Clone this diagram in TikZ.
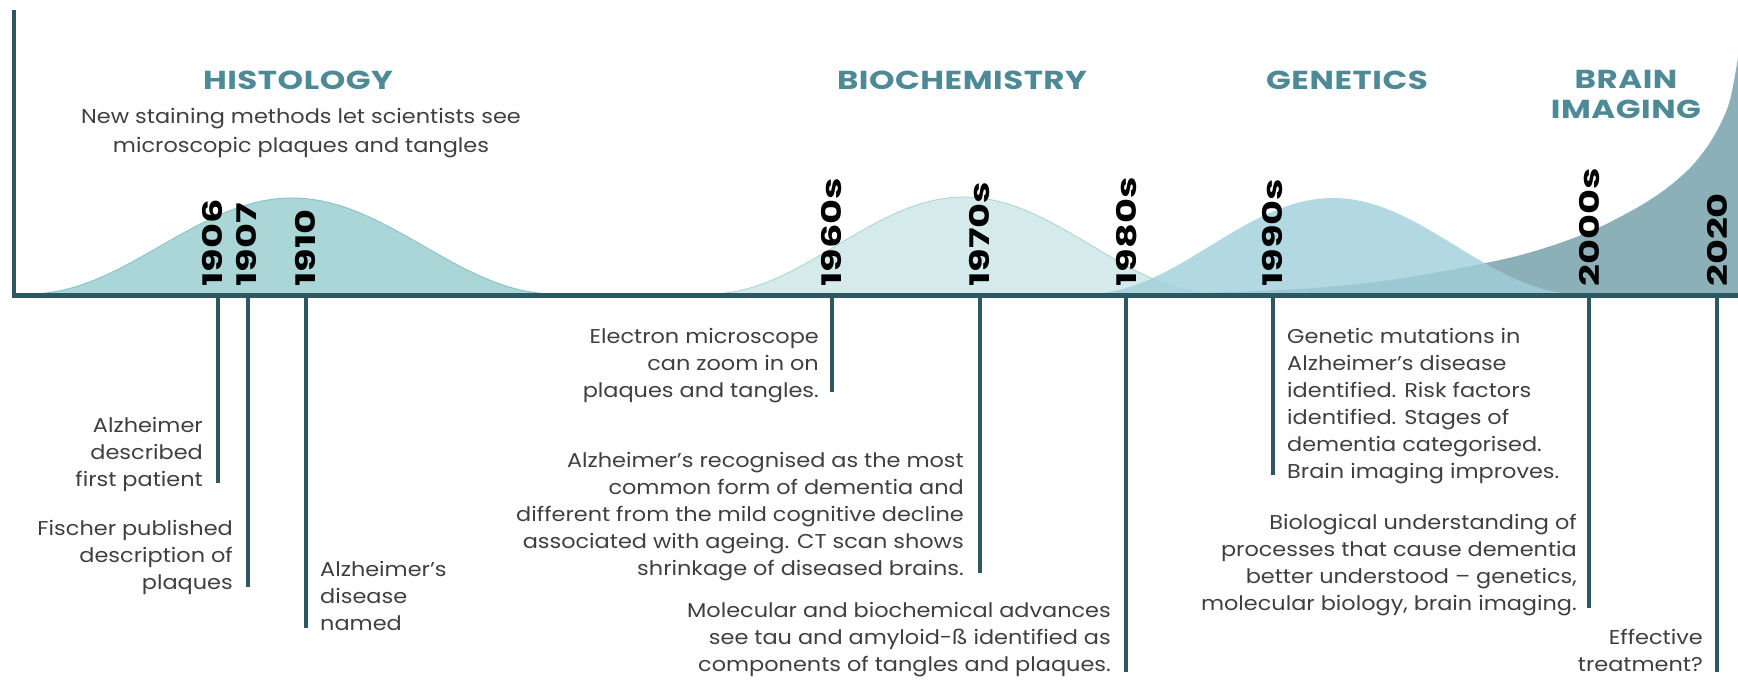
\documentclass[tikz,border=0pt]{standalone}
\usepackage{fontspec}
\setmainfont{Poppins}
\newfontfamily\descfam{Poppins}[FakeStretch=1.12]
\newfontfamily\yearfam{Poppins}[FakeStretch=1.42]
\newfontfamily\ttlfam{Poppins}[FakeStretch=1.25, LetterSpace=2]
\definecolor{axiscol}{HTML}{2D5763}
\definecolor{titlecol}{HTML}{4E8A96}
\definecolor{textcol}{HTML}{3F3F3F}
\definecolor{histcol}{HTML}{AAD6D7}
\definecolor{histline}{HTML}{8CC4C8}
\definecolor{biocol}{HTML}{D4EAEB}
\definecolor{gencol}{HTML}{9FCFD9}
\definecolor{imgcol}{HTML}{8CB0B7}
\newcommand\descfont{\descfam\fontsize{20}{27}\selectfont}
\newcommand\yearfont{\yearfam\fontsize{27}{27}\selectfont\bfseries}
\newcommand\titlefnt{\ttlfam\fontsize{26}{30}\selectfont\bfseries}
\begin{document}
\begin{tikzpicture}[x=1pt,y=-1pt,
  axisline/.style={draw=axiscol, line width=5pt},
  vaxis/.style={draw=axiscol, line width=3.5pt},
  tickline/.style={draw=axiscol, line width=3.5pt},
  yearlab/.style={rotate=90, anchor=west, inner sep=0pt, font=\yearfont, text=black},
  desc/.style={inner sep=0pt, font=\descfont, text=textcol},
  ttl/.style={inner sep=0pt, font=\titlefnt, text=titlecol, align=center},
]
\useasboundingbox (0,0) rectangle (1738,680);
% humps
\fill[biocol] plot[domain=0:1, samples=80] ({709+510*\x}, {294-97*(sin(180*\x))^2}) -- cycle;
\draw[histline!60!biocol, line width=0.8pt] plot[domain=0:1, samples=80] ({709+510*\x}, {294-97*(sin(180*\x))^2});
\fill[histcol] plot[domain=0:1, samples=80] ({29+526*\x}, {294-96*(sin(180*\x))^2}) -- cycle;
\draw[histline, line width=1pt] plot[domain=0:1, samples=80] ({29+526*\x}, {294-96*(sin(180*\x))^2});
\fill[imgcol] plot[smooth] coordinates {(1150,295) (1300,289) (1383,281) (1450,270) (1513,257) (1560,243) (1600,227) (1640,206) (1667,188) (1690,168) (1707,147) (1720,125) (1730,100) (1738,58)} -- (1738,295) -- cycle;
\fill[gencol, opacity=0.8] plot[domain=0:1, samples=80] ({1087+492*\x}, {294-96*(sin(180*\x))^2}) -- cycle;
% axes
\coordinate (origin) at (14,295);
\coordinate (ytop) at (14,10);
\coordinate (xend) at (1738,295);
\draw[vaxis] (ytop) -- (origin);
\draw[axisline] (12.25,295) -- (xend);
% titles
\node[ttl] (histT) at (298,80) {HISTOLOGY};
\node[inner sep=0pt, font=\descfam\fontsize{20}{29}\selectfont, text=textcol, align=center] (histS) at (301,133) {New staining methods let scientists see\\microscopic plaques and tangles};
\node[ttl] (bioT) at (962,80) {BIOCHEMISTRY};
\node[ttl] (genT) at (1347,80) {GENETICS};
\node[ttl] (imgT) at (1626,94) {BRAIN\\IMAGING};
% year labels
\node[yearlab] (y1906) at (212,287) {1906};
\node[yearlab] (y1907) at (246,287) {1907};
\node[yearlab] (y1910) at (305,287) {1910};
\node[yearlab] (y1960) at (832,287) {1960s};
\node[yearlab] (y1970) at (980,287) {1970s};
\node[yearlab] (y1980) at (1127,287) {1980s};
\node[yearlab] (y1990) at (1273,287) {1990s};
\node[yearlab] (y2000) at (1590,287) {2000s};
\node[yearlab] (y2020) at (1717,287) {2020};
% ticks
\foreach \n/\x/\b in {1906/218/483, 1907/248/587, 1910/306/628, 1960/832/392, 1970/980/573, 1980/1126/672, 1990/1273/475, 2000/1589/608, 2020/1717/672}{
  \coordinate (t\n) at (\x,297);
  \coordinate (b\n) at (\x,\b);
  \draw[tickline] (t\n) -- (b\n);
}
% descriptions
\node[desc, align=right, anchor=north east] (d1906) at (203,417) {Alzheimer\\described\\first patient};
\node[desc, align=right, anchor=north east] (d1907) at (233,520) {Fischer published\\description of\\plaques};
\node[desc, align=left, anchor=north west] (d1910) at (320,561) {Alzheimer’s\\disease\\named};
\node[desc, align=right, anchor=north east] (d1960) at (819,328) {Electron microscope\\can zoom in on\\plaques and tangles.};
\node[desc, align=right, anchor=north east] (d1970) at (964,452) {Alzheimer’s recognised as the most\\common form of dementia and\\different from the mild cognitive decline\\associated with ageing. CT scan shows\\shrinkage of diseased brains.};
\node[desc, align=right, anchor=north east] (d1980) at (1111,602) {Molecular and biochemical advances\\see tau and amyloid-ß identified as\\components of tangles and plaques.};
\node[desc, align=left, anchor=north west] (d1990) at (1287,328) {Genetic mutations in\\Alzheimer’s disease\\identified. Risk factors\\identified. Stages of\\dementia categorised.\\Brain imaging improves.};
\node[desc, align=right, anchor=north east] (d2000) at (1577,514) {Biological understanding of\\processes that cause dementia\\better understood – genetics,\\molecular biology, brain imaging.};
\node[desc, align=right, anchor=north east] (d2020) at (1703,629) {Effective\\treatment?};
\end{tikzpicture}
\end{document}
